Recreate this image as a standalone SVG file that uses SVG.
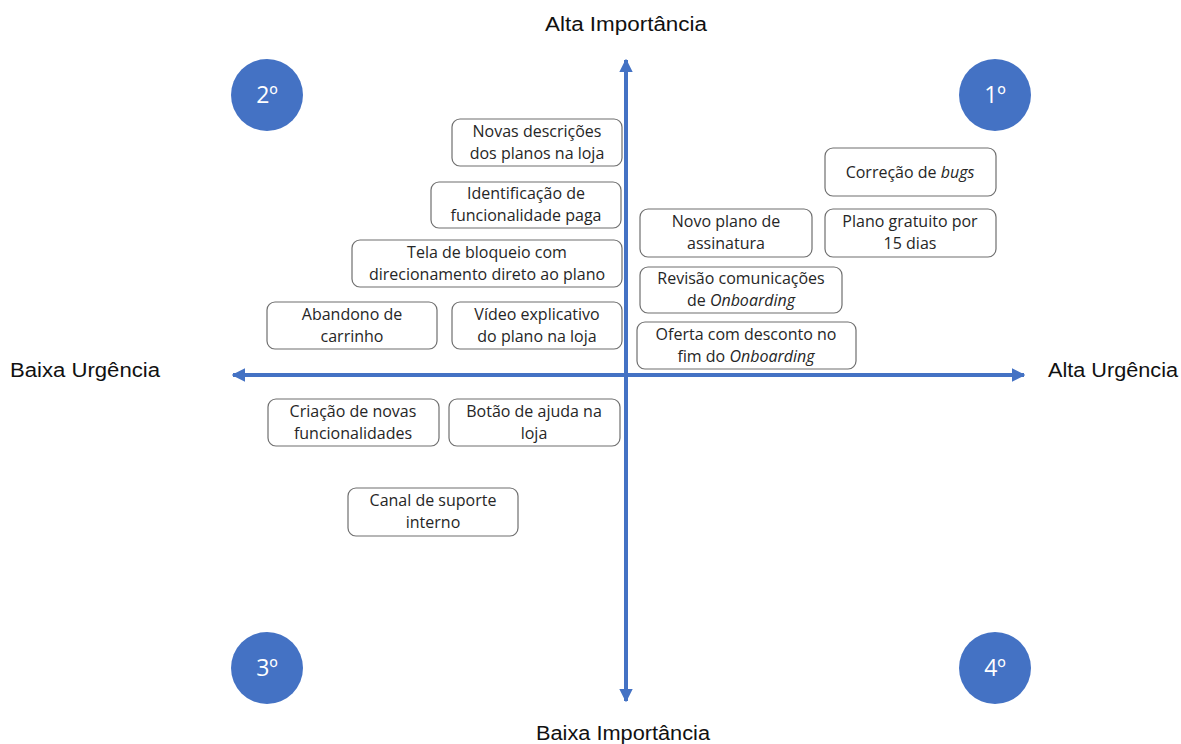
<svg xmlns="http://www.w3.org/2000/svg" width="1181" height="744" viewBox="0 0 1181 744">
<style>
.box{fill:#fff;stroke:#6f6f6f;stroke-width:1.2}
.bt{font-family:"Open Sans","Liberation Sans",Arial,sans-serif;font-size:16px;fill:#262626;text-anchor:middle}
.ax{font-family:"Liberation Sans",Arial,sans-serif;font-size:20px;fill:#111}
.circ{fill:#4472c4}
.ct{font-family:"Open Sans","Liberation Sans",Arial,sans-serif;font-size:23px;fill:#fff;text-anchor:middle}
.axis{stroke:#4472c4;stroke-width:4;fill:none}
</style>
<defs>
<marker id="ah" viewBox="0 0 10 10" refX="9" refY="5" markerWidth="3.4" markerHeight="3.4" orient="auto" markerUnits="strokeWidth">
<path d="M0,0 L10,5 L0,10 z" fill="#4472c4"/>
</marker>
</defs>
<rect width="1181" height="744" fill="#fff"/>
<g id="connectors">
<line class="axis" x1="626" y1="375" x2="626" y2="60" marker-end="url(#ah)"/>
<line class="axis" x1="626" y1="375" x2="626" y2="701" marker-end="url(#ah)"/>
<line class="axis" x1="626" y1="375" x2="233" y2="375" marker-end="url(#ah)"/>
<line class="axis" x1="626" y1="375" x2="1024" y2="375" marker-end="url(#ah)"/>
</g>
<g id="axis-labels">
<text class="ax" x="545" y="31" textLength="162" lengthAdjust="spacingAndGlyphs">Alta Importância</text>
<text class="ax" x="536" y="740" textLength="174" lengthAdjust="spacingAndGlyphs">Baixa Importância</text>
<text class="ax" x="10" y="377" textLength="150" lengthAdjust="spacingAndGlyphs">Baixa Urgência</text>
<text class="ax" x="1048" y="377" textLength="130" lengthAdjust="spacingAndGlyphs">Alta Urgência</text>
</g>
<g id="q2"><circle class="circ" cx="267" cy="95" r="36"/><text class="ct" x="267" y="103">2º</text></g>
<g id="q1"><circle class="circ" cx="995" cy="95" r="36"/><text class="ct" x="995" y="103">1º</text></g>
<g id="q3"><circle class="circ" cx="267" cy="668" r="36"/><text class="ct" x="267" y="676">3º</text></g>
<g id="q4"><circle class="circ" cx="995" cy="668" r="36"/><text class="ct" x="995" y="676">4º</text></g>
<g id="n-novas"><rect class="box" x="452" y="119" width="170" height="47" rx="8"/><text class="bt" x="537" y="137">Novas descrições</text><text class="bt" x="537" y="159">dos planos na loja</text></g>
<g id="n-ident"><rect class="box" x="431" y="182" width="190" height="46" rx="8"/><text class="bt" x="526" y="199">Identificação de</text><text class="bt" x="526" y="221">funcionalidade paga</text></g>
<g id="n-tela"><rect class="box" x="352" y="240" width="270" height="47" rx="8"/><text class="bt" x="487" y="258">Tela de bloqueio com</text><text class="bt" x="487" y="280">direcionamento direto ao plano</text></g>
<g id="n-abandono"><rect class="box" x="267" y="302" width="170" height="47" rx="8"/><text class="bt" x="352" y="320">Abandono de</text><text class="bt" x="352" y="342">carrinho</text></g>
<g id="n-video"><rect class="box" x="452" y="302" width="170" height="47" rx="8"/><text class="bt" x="537" y="320">Vídeo explicativo</text><text class="bt" x="537" y="342">do plano na loja</text></g>
<g id="n-bugs"><rect class="box" x="825" y="148" width="171" height="48" rx="8"/><text class="bt" x="910" y="178">Correção de <tspan font-style="italic">bugs</tspan></text></g>
<g id="n-novo"><rect class="box" x="640" y="209" width="172" height="48" rx="8"/><text class="bt" x="726" y="227">Novo plano de</text><text class="bt" x="726" y="249">assinatura</text></g>
<g id="n-gratuito"><rect class="box" x="825" y="209" width="171" height="48" rx="8"/><text class="bt" x="910" y="227">Plano gratuito por</text><text class="bt" x="910" y="249">15 dias</text></g>
<g id="n-revisao"><rect class="box" x="640" y="267" width="202" height="46" rx="8"/><text class="bt" x="741" y="284">Revisão comunicações</text><text class="bt" x="741" y="306">de <tspan font-style="italic">Onboarding</tspan></text></g>
<g id="n-oferta"><rect class="box" x="637" y="322" width="219" height="47" rx="8"/><text class="bt" x="746" y="340">Oferta com desconto no</text><text class="bt" x="746" y="362">fim do <tspan font-style="italic">Onboarding</tspan></text></g>
<g id="n-criacao"><rect class="box" x="268" y="399" width="171" height="47" rx="8"/><text class="bt" x="353" y="417">Criação de novas</text><text class="bt" x="353" y="439">funcionalidades</text></g>
<g id="n-botao"><rect class="box" x="449" y="399" width="171" height="47" rx="8"/><text class="bt" x="534" y="417">Botão de ajuda na</text><text class="bt" x="534" y="439">loja</text></g>
<g id="n-canal"><rect class="box" x="348" y="488" width="170" height="48" rx="8"/><text class="bt" x="433" y="506">Canal de suporte</text><text class="bt" x="433" y="528">interno</text></g>
</svg>
